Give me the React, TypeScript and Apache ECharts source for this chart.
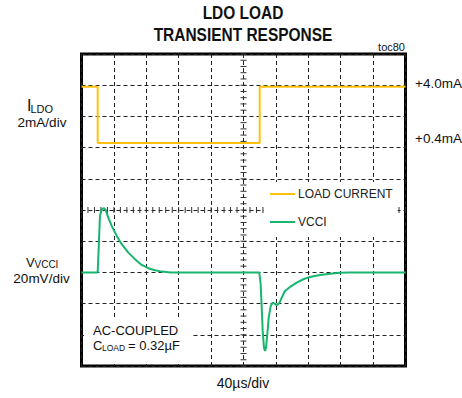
import React, { useEffect, useRef } from "react";
import * as echarts from "echarts";

const FONT = '"Liberation Sans", Arial, sans-serif';

// time axis (µs), 40 µs/div, 10 divisions
const timeAxis = { min: 0, max: 400, interval: 40 };
// VCCI axis (mV, AC-coupled), 20 mV/div
const vcciAxis = { min: -60, max: 140, interval: 20 };
// load current axis (mA), 2 mA/div
const currentAxis = { min: -13.9, max: 6.1 };

const currentTime = [0, 20, 20, 220, 220, 400];
const currentValues = [4.0, 4.0, 0.4, 0.4, 4.0, 4.0];

const vcciTime = [
  0, 20, 22.8, 24.9, 27.8, 29.9, 33.1, 37.3, 43.5, 49.6, 57.8, 66, 74.3, 82.5,
  90.7, 99, 110, 219.5, 221.2, 222.5, 223.7, 225.3, 226.5, 227.8, 229.4, 231.1,
  233.6, 236, 238.5, 241, 244.2, 247.2, 251.2, 257.4, 265.7, 273.8, 282.1,
  294.4, 306.8, 319.1, 330, 400,
];
const vcciValues = [
  0, 0, 36.2, 40.5, 41.2, 39.9, 35.1, 29.8, 23.4, 18.1, 12.7, 8.5, 4.8, 2.7,
  1.4, 0.5, 0, 0, -7.6, -22.6, -37.5, -48.2, -50.3, -48.2, -39.6, -29, -21.5,
  -19.4, -20, -21, -19.7, -16.2, -11.9, -9.3, -6.5, -4.4, -2.9, -1.6, -0.8,
  -0.3, 0, 0,
];

const seriesNames = ["LOAD CURRENT", "VCCI"];
const titleLines = ["LDO LOAD", "TRANSIENT RESPONSE"];
const rightLabels = ["+4.0mA", "+0.4mA"];

// center crosshair minor ticks (1/5 division)
const minorTimeStep = 8;
const minorVoltStep = 4;
const centerTime = 200;
const centerVolt = 40;

function txt(
  text: string,
  x: number,
  y: number,
  size: number,
  opts: any = {}
) {
  const align = opts.align || "left";
  return {
    type: "text",
    x,
    y,
    z: 20,
    scaleX: opts.scaleX || 1,
    style: {
      text,
      fill: opts.fill || "#111",
      fontSize: size,
      fontFamily: FONT,
      fontWeight: opts.bold ? "bold" : "normal",
      textAlign: align,
      align,
      textVerticalAlign: "middle",
      verticalAlign: "middle",
    },
  };
}

export default function App() {
  const ref = useRef<HTMLDivElement>(null);
  useEffect(() => {
    const chart = echarts.init(ref.current!, null, { renderer: "svg" });

    const tickData: number[][] = [];
    for (let t = timeAxis.min; t <= timeAxis.max; t += minorTimeStep)
      tickData.push([t, centerVolt, 0]);
    for (let v = vcciAxis.min; v <= vcciAxis.max; v += minorVoltStep)
      tickData.push([centerTime, v, 1]);

    const dash = { color: "#222", width: 1, type: [4, 3] as any };

    const option: any = {
      animation: false,
      backgroundColor: "#fff",
      grid: {
        left: 81.5,
        top: 54,
        width: 324,
        height: 312,
        show: true,
        borderColor: "#000",
        borderWidth: 3,
        backgroundColor: "transparent",
      },
      xAxis: {
        type: "value",
        min: timeAxis.min,
        max: timeAxis.max,
        interval: timeAxis.interval,
        axisLine: { show: false },
        axisTick: { show: false },
        axisLabel: { show: false },
        splitLine: { show: true, lineStyle: dash },
      },
      yAxis: [
        {
          type: "value",
          min: vcciAxis.min,
          max: vcciAxis.max,
          interval: vcciAxis.interval,
          axisLine: { show: false },
          axisTick: { show: false },
          axisLabel: { show: false },
          splitLine: { show: true, lineStyle: dash },
        },
        {
          type: "value",
          min: currentAxis.min,
          max: currentAxis.max,
          axisLine: { show: false },
          axisTick: { show: false },
          axisLabel: { show: false },
          splitLine: { show: false },
        },
      ],
      legend: {
        data: seriesNames.map((n) => ({ name: n, icon: "rect" })),
        orient: "vertical",
        left: 264,
        top: 182,
        padding: [5, 5, 8, 6],
        backgroundColor: "#fff",
        itemWidth: 25,
        itemHeight: 2,
        itemGap: 14,
        textStyle: {
          fontFamily: FONT,
          fontSize: 12,
          color: "#222",
          lineHeight: 14,
          padding: [0, 0, 0, -2],
        },
        z: 10,
      },
      series: [
        {
          type: "custom",
          name: "ticks",
          silent: true,
          z: 1,
          xAxisIndex: 0,
          yAxisIndex: 0,
          data: tickData,
          renderItem: (params: any, api: any) => {
            const p = api.coord([api.value(0), api.value(1)]);
            const h = 3;
            const kind = api.value(2);
            const shape =
              kind === 0
                ? { x1: p[0], y1: p[1] - h, x2: p[0], y2: p[1] + h }
                : { x1: p[0] - h, y1: p[1], x2: p[0] + h, y2: p[1] };
            return {
              type: "line",
              shape,
              style: { stroke: "#333", lineWidth: 1 },
            };
          },
        },
        {
          type: "line",
          name: seriesNames[0],
          xAxisIndex: 0,
          yAxisIndex: 1,
          data: currentTime.map((t, i) => [t, currentValues[i]]),
          showSymbol: false,
          symbol: "none",
          lineStyle: { color: "#FFC10E", width: 2 },
          itemStyle: { color: "#FFC10E" },
          z: 3,
        },
        {
          type: "line",
          name: seriesNames[1],
          xAxisIndex: 0,
          yAxisIndex: 0,
          data: vcciTime.map((t, i) => [t, vcciValues[i]]),
          showSymbol: false,
          symbol: "none",
          lineStyle: { color: "#17B56E", width: 2 },
          itemStyle: { color: "#17B56E" },
          z: 3,
        },
      ],
      graphic: [
        txt(titleLines[0], 243, 13, 18, { bold: true, align: "center", scaleX: 0.86 }),
        txt(titleLines[1], 243, 35, 18, { bold: true, align: "center", scaleX: 0.86 }),
        txt("toc80", 405, 47, 11, { align: "right" }),
        // left labels
        txt("I", 27, 105, 16),
        txt("LDO", 30.5, 108.5, 11),
        txt("2mA/div", 42, 122.5, 13.5, { align: "center" }),
        txt("V", 26, 262, 13),
        txt("VCCI", 34.5, 264, 10),
        txt("20mV/div", 41.5, 278.5, 13.5, { align: "center" }),
        // right labels
        txt(rightLabels[0], 415, 83, 13.5),
        txt(rightLabels[1], 415, 138, 13.5),
        // bottom
        txt("40µs/div", 243, 383, 14, { align: "center" }),
        {
          type: "rect",
          z: 15,
          shape: { x: 84, y: 318, width: 108, height: 46 },
          style: { fill: "#fff" },
        },
        txt("AC-COUPLED", 93, 330.5, 13),
        txt("C", 93, 345, 13),
        txt("LOAD", 102, 347.5, 8.5),
        txt("= 0.32µF", 128, 345, 13),
      ],
    };
    chart.setOption(option);
    return () => chart.dispose();
  }, []);
  return (
    <div
      ref={ref}
      style={{
        position: "fixed",
        left: 0,
        top: 0,
        width: 462,
        height: 398,
        background: "#fff",
      }}
    />
  );
}
